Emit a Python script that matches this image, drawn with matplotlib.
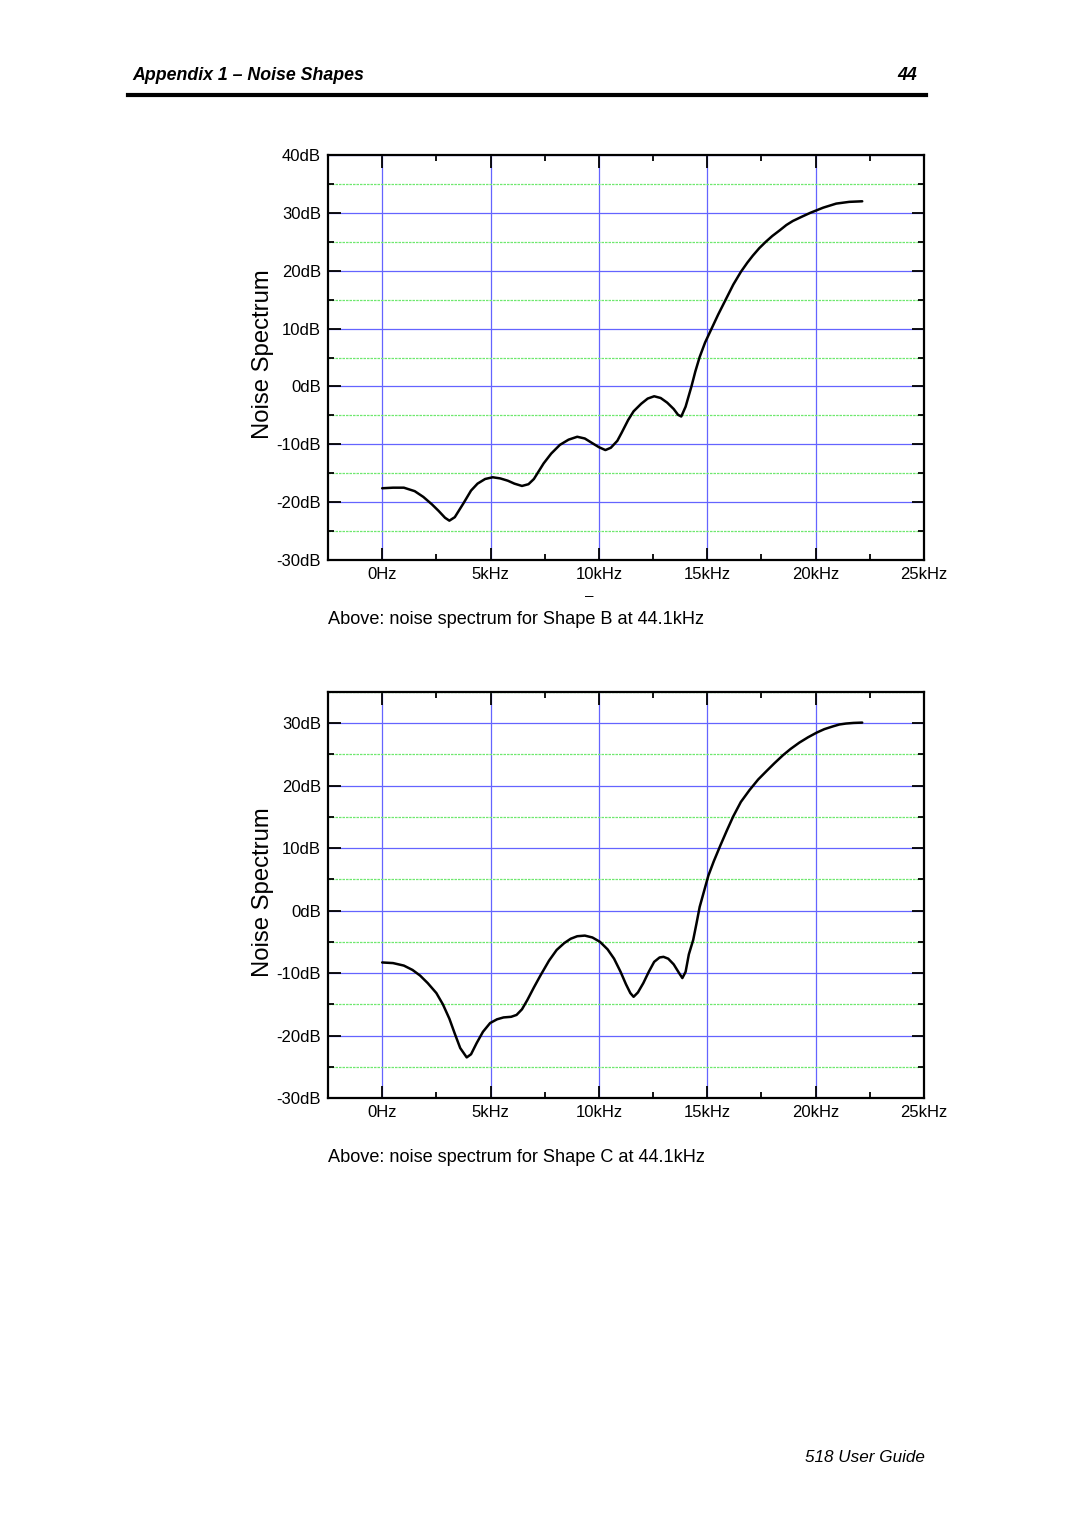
import matplotlib
matplotlib.use("Agg")
import matplotlib.pyplot as plt
from matplotlib.ticker import FixedLocator, MultipleLocator
from matplotlib import font_manager

# ---------------- data ----------------
freq_ticks_khz = [0, 5, 10, 15, 20, 25]
freq_tick_labels = ["0Hz", "5kHz", "10kHz", "15kHz", "20kHz", "25kHz"]

shapeB_db_ticks = [40, 30, 20, 10, 0, -10, -20, -30]
shapeB_db_labels = ["40dB", "30dB", "20dB", "10dB", "0dB", "-10dB", "-20dB", "-30dB"]

shapeC_db_ticks = [30, 20, 10, 0, -10, -20, -30]
shapeC_db_labels = ["30dB", "20dB", "10dB", "0dB", "-10dB", "-20dB", "-30dB"]

shapeB_freq = [0, 0.5, 1.0, 1.5, 1.9, 2.3, 2.6, 2.9, 3.1, 3.35, 3.75, 4.1, 4.4, 4.75,
               5.1, 5.45, 5.8, 6.1, 6.45, 6.75, 7.0, 7.45, 7.8, 8.2, 8.6, 9.0, 9.35,
               9.65, 10.0, 10.3, 10.55, 10.85, 11.05, 11.35, 11.6, 11.95, 12.25, 12.55,
               12.85, 13.15, 13.45, 13.65, 13.8, 14.0, 14.27, 14.45, 14.65, 14.9, 15.2,
               15.5, 15.85, 16.2, 16.55, 16.85, 17.1, 17.4, 17.7, 18.0, 18.35, 18.65,
               18.95, 19.4, 19.75, 20.35, 20.95, 21.55, 22.15]
shapeB_db = [-17.6, -17.5, -17.5, -18.1, -19.1, -20.4, -21.5, -22.7, -23.2, -22.6, -20.2,
             -18.0, -16.8, -16.0, -15.7, -15.9, -16.3, -16.8, -17.2, -16.9, -16.0, -13.3,
             -11.6, -10.1, -9.2, -8.7, -9.0, -9.7, -10.5, -11.0, -10.6, -9.4, -8.0, -5.8,
             -4.3, -3.0, -2.1, -1.7, -2.0, -2.8, -3.9, -4.9, -5.2, -3.5, 0.0, 2.6, 5.1,
             7.6, 10.0, 12.4, 15.0, 17.6, 19.8, 21.4, 22.6, 23.9, 25.0, 26.0, 27.0, 27.9,
             28.6, 29.4, 30.0, 30.9, 31.6, 31.9, 32.0]

shapeC_freq = [0, 0.5, 1.0, 1.4, 1.75, 2.1, 2.5, 2.8, 3.1, 3.35, 3.6, 3.9, 4.1, 4.36,
               4.65, 4.98, 5.3, 5.6, 5.95, 6.2, 6.45, 6.7, 7.0, 7.3, 7.7, 8.05, 8.4, 8.7,
               9.0, 9.35, 9.7, 10.05, 10.4, 10.7, 11.0, 11.25, 11.45, 11.6, 11.8, 12.05,
               12.3, 12.55, 12.8, 12.98, 13.2, 13.45, 13.7, 13.85, 14.0, 14.15, 14.35,
               14.5, 14.65, 14.85, 15.05, 15.3, 15.6, 15.9, 16.2, 16.55, 16.95, 17.35,
               17.75, 18.1, 18.5, 18.85, 19.25, 19.65, 20.05, 20.4, 20.8, 21.1, 21.4,
               21.75, 22.15]
shapeC_db = [-8.3, -8.4, -8.8, -9.5, -10.4, -11.6, -13.2, -15.0, -17.3, -19.7, -22.0,
             -23.5, -23.0, -21.2, -19.4, -18.0, -17.4, -17.1, -17.0, -16.7, -15.8, -14.3,
             -12.3, -10.4, -8.0, -6.3, -5.2, -4.5, -4.1, -4.0, -4.3, -5.0, -6.2, -7.7,
             -9.8, -11.8, -13.2, -13.8, -13.1, -11.6, -9.8, -8.2, -7.5, -7.4, -7.7, -8.6,
             -10.0, -10.8, -9.8, -7.0, -4.7, -2.1, 0.6, 3.1, 5.6, 7.9, 10.4, 12.8, 15.1,
             17.4, 19.3, 21.0, 22.4, 23.6, 24.9, 25.9, 26.9, 27.75, 28.5, 29.05, 29.5,
             29.8, 29.95, 30.05, 30.1]

header_left = "Appendix 1 \u2013 Noise Shapes"
header_right = "44"
footer = "518 User Guide"
captions = ["Above: noise spectrum for Shape B at 44.1kHz",
            "Above: noise spectrum for Shape C at 44.1kHz"]
ylabel = "Noise Spectrum"

# ---------------- fonts ----------------
installed = {f.name for f in font_manager.fontManager.ttflist}
narrow = "Liberation Sans Narrow" if "Liberation Sans Narrow" in installed else "Liberation Sans"
plt.rcParams["font.family"] = ["Liberation Sans", "DejaVu Sans"]

W, H = 1080, 1528
fig = plt.figure(figsize=(W / 100, H / 100), dpi=100)


def fx(px):
    return px / W


def fy(py):
    return 1 - py / H


def make_axes(top_px, bottom_px, ylim, yticks, ylabels, xs, ys):
    ax = fig.add_axes([fx(328), fy(bottom_px), fx(924) - fx(328), fy(top_px) - fy(bottom_px)])
    ax.set_xlim(-2.5, 25)
    ax.set_ylim(*ylim)
    ax.xaxis.set_major_locator(FixedLocator(freq_ticks_khz))
    ax.xaxis.set_minor_locator(FixedLocator([2.5, 7.5, 12.5, 17.5, 22.5]))
    ax.set_xticklabels(freq_tick_labels)
    ax.yaxis.set_major_locator(FixedLocator(yticks))
    ax.yaxis.set_minor_locator(MultipleLocator(5))
    ax.set_yticklabels(ylabels)
    ax.set_axisbelow(True)
    ax.grid(which="major", color="#6464ff", linewidth=0.9)
    ax.grid(which="minor", axis="y", color="#6fe86f", linewidth=0.9, linestyle=(0, (2, 0.8)))
    ax.tick_params(which="both", direction="in", top=True, right=True, width=1.3,
                   colors="black", labelsize=12, pad=5)
    ax.tick_params(which="major", length=9)
    ax.tick_params(which="minor", length=4.5)
    for lab in ax.get_xticklabels() + ax.get_yticklabels():
        lab.set_family([narrow, "DejaVu Sans"])
    for s in ax.spines.values():
        s.set_linewidth(1.6)
    ax.plot(xs, ys, color="black", linewidth=1.8, solid_capstyle="round",
            solid_joinstyle="round")
    return ax


ax1 = make_axes(155, 560, (-30, 40), shapeB_db_ticks, shapeB_db_labels, shapeB_freq, shapeB_db)
ax2 = make_axes(692, 1098, (-30, 35), shapeC_db_ticks, shapeC_db_labels, shapeC_freq, shapeC_db)

# y labels
fig.text(fx(263), fy(354), ylabel, rotation=90, ha="center", va="center", fontsize=17.2)
fig.text(fx(263), fy(892), ylabel, rotation=90, ha="center", va="center", fontsize=17.2)

# captions
fig.text(fx(328), fy(619), captions[0], ha="left", va="center", fontsize=13.1)
fig.text(fx(328), fy(1157), captions[1], ha="left", va="center", fontsize=13.1)

# stray dash under 10kHz
fig.text(fx(589), fy(596), "\u2013", ha="center", va="center", fontsize=11)

# header
fig.text(fx(132), fy(76), header_left, ha="left", va="center", fontsize=12.8,
         fontweight="bold", fontstyle="italic")
fig.text(fx(917), fy(76), header_right, ha="right", va="center", fontsize=12.8,
         fontweight="bold", fontstyle="italic")
fig.add_artist(plt.Line2D([fx(128), fx(926)], [fy(95), fy(95)], color="black",
                          linewidth=3.0, transform=fig.transFigure))

# footer
fig.text(fx(925), fy(1457), footer, ha="right", va="center", fontsize=12.3, fontstyle="italic")

fig.savefig("out.png", dpi=100, facecolor="white")
